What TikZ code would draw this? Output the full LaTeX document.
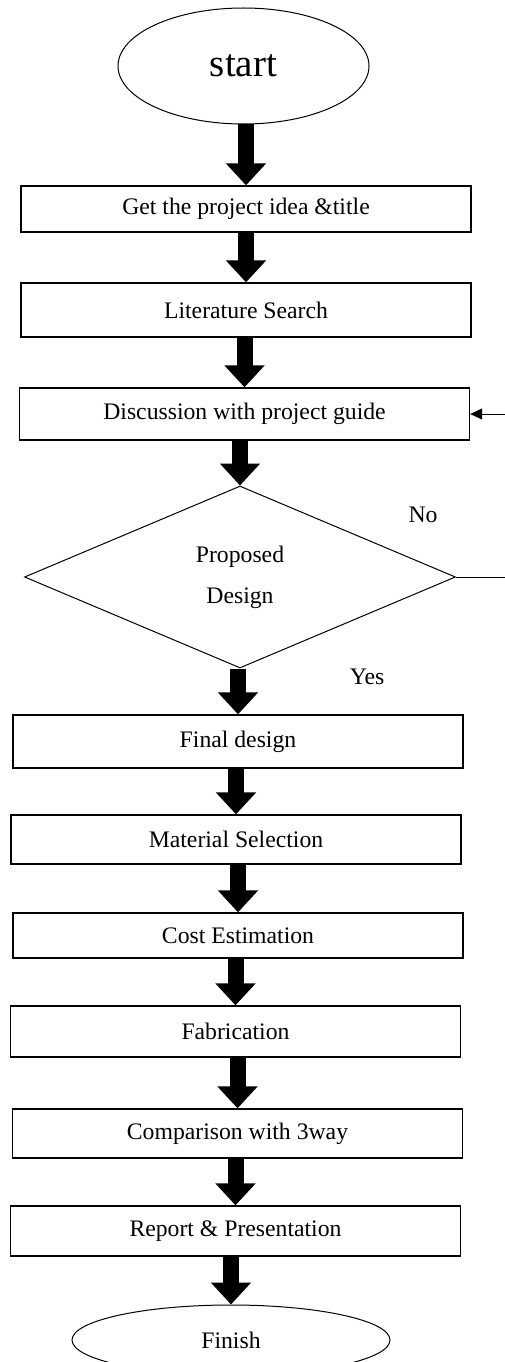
\documentclass[tikz,border=0pt]{standalone}
\usepackage{fontspec}
\setmainfont{Liberation Serif}
\usetikzlibrary{shapes.geometric,arrows.meta}
\begin{document}
\begin{tikzpicture}[x=1pt,y=-1pt,
    every node/.style={font=\fontsize{23.7}{28}\selectfont},
    stepbox/.style={draw,line width=1.3pt,minimum width=450pt,minimum height=49pt,inner sep=0pt},
    term/.style={ellipse,draw,line width=1pt,inner sep=0pt},
    bigarrow/.style={line width=16pt,-{Triangle[width=39pt,length=22pt]}},
    backarrow/.style={line width=1pt,-{Triangle[width=11pt,length=12pt]}}]
  \useasboundingbox (0,0) rectangle (504,1362);
  % terminals and steps
  \node[term,minimum width=251pt,minimum height=116pt,font=\fontsize{39}{44}\selectfont] (start) at (243.5,66) {start};
  \node[stepbox,minimum height=46pt] (idea) at (246,209) {Get the project idea \&title};
  \node[stepbox,minimum height=54pt] (lit) at (246,310) {Literature Search};
  \node[stepbox,minimum height=52pt] (guide) at (244.5,414) {Discussion with project guide};
  \node[diamond,draw,line width=1pt,inner sep=0pt,minimum width=431pt,minimum height=182pt,
        align=center,font=\fontsize{23.7}{41}\selectfont] (design) at (240,577) {Proposed\\Design};
  \node (no) at (423,515) {No};
  \node (yes) at (367,677) {Yes};
  \node[stepbox,minimum height=53pt] (final) at (238,741.5) {Final design};
  \node[stepbox] (material) at (236,839.5) {Material Selection};
  \node[stepbox,minimum height=45pt] (cost) at (238,935.5) {Cost Estimation};
  \node[stepbox,minimum height=51pt] (fab) at (235.5,1031.5) {Fabrication};
  \node[stepbox] (comp) at (237.5,1133.5) {Comparison with 3way};
  \node[stepbox,minimum height=50pt] (report) at (235.5,1231) {Report \& Presentation};
  \node[term,minimum width=318pt,minimum height=70pt] (finish) at (231,1340) {Finish};
  % thick arrows
  \foreach \a/\b in {start/idea,idea/lit,lit/guide,guide/design,design/final,final/material,
                     material/cost,cost/fab,fab/comp,comp/report,report/finish}
    \draw[bigarrow] (\b.north |- \a.south) -- (\b.north);
  % loop back when not accepted
  \coordinate (loop) at (508,577);
  \draw[backarrow] (design.east) -- (loop) |- (guide.east);
\end{tikzpicture}
\end{document}
